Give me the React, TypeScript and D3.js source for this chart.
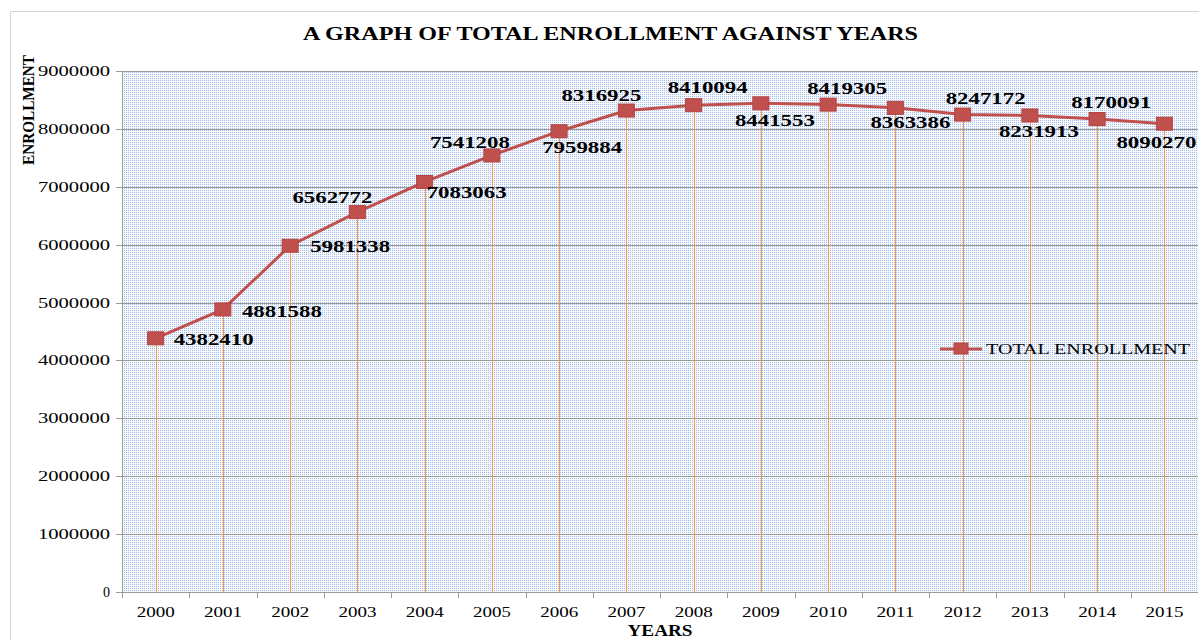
import React from 'react'
import * as d3 from 'd3'

const years = ['2000', '2001', '2002', '2003', '2004', '2005', '2006', '2007', '2008', '2009', '2010', '2011', '2012', '2013', '2014', '2015']
const enrollment = [4382410, 4881588, 5981338, 6562772, 7083063, 7541208, 7959884, 8316925, 8410094, 8441553, 8419305, 8363386, 8247172, 8231913, 8170091, 8090270]
const yTicks = [0, 1000000, 2000000, 3000000, 4000000, 5000000, 6000000, 7000000, 8000000, 9000000]
const seriesName = 'TOTAL ENROLLMENT'

// label placement around each marker (dx, dy baseline), as in the original sheet
const labelNudge = [
  [58, 7], [59, 8], [60, 6], [-25, -9], [42, 16], [-22, -7], [23, 22], [-25, -10],
  [14, -12], [14, 23], [19, -11], [15, 20], [23, -11], [9, 22], [14, -11], [-8, 24],
]

const W = 1199
const H = 640
const plot = { left: 122, right: 1198, top: 71, bottom: 592 }
const font = '"Liberation Serif", "Times New Roman", serif'
const red = '#C0504D'

const App = () => {
  const x = d3.scaleBand().domain(years).range([plot.left, plot.right])
  const y = d3.scaleLinear().domain([0, 9000000]).range([plot.bottom, plot.top])
  const cx = (yr: string) => (x(yr) as number) + x.bandwidth() / 2

  const line = d3
    .line<number>()
    .x((d, i) => cx(years[i]))
    .y((d) => y(d))

  return (
    <svg width={W} height={H} style={{ position: 'absolute', left: 0, top: 0, background: '#fff' }}>
      <defs>
        <pattern id='dots' width={2} height={2} patternUnits='userSpaceOnUse'>
          <rect width={2} height={2} fill='#F9FAFE' />
          <rect width={1} height={1} fill='#A3BBEA' />
        </pattern>
      </defs>
      <rect x={10.5} y={11.5} width={1300} height={700} fill='none' stroke='#D4D4D4' />

      <text x={610.5} y={40} textAnchor='middle' fontFamily={font} fontWeight='bold' fontSize={19}
        textLength={615} lengthAdjust='spacingAndGlyphs'>
        A GRAPH OF TOTAL ENROLLMENT AGAINST YEARS
      </text>

      <rect x={plot.left} y={plot.top} width={plot.right - plot.left} height={plot.bottom - plot.top} fill='url(#dots)' />

      {yTicks.map((t) => (
        <g key={t}>
          <line x1={plot.left - 6} x2={plot.right} y1={Math.round(y(t)) + 0.5} y2={Math.round(y(t)) + 0.5} stroke='#9A9A9A' />
          <text x={110} y={y(t) + 5} textAnchor='end' fontFamily={font} fontSize={14}
            textLength={t === 0 ? undefined : 72} lengthAdjust='spacingAndGlyphs'>
            {t}
          </text>
        </g>
      ))}

      <line x1={plot.left + 0.5} x2={plot.left + 0.5} y1={plot.top} y2={plot.bottom} stroke='#9A9A9A' />

      {years.map((yr, i) => (
        <line key={'drop' + yr} x1={Math.round(cx(yr)) + 0.5} x2={Math.round(cx(yr)) + 0.5}
          y1={y(enrollment[i])} y2={plot.bottom} stroke='#F79646' strokeWidth={1} />
      ))}

      <line x1={plot.left} x2={plot.right} y1={plot.bottom + 0.5} y2={plot.bottom + 0.5} stroke='#9A9A9A' />
      {years.map((yr) => (
        <line key={'tk' + yr} x1={Math.round(x(yr) as number) + 0.5} x2={Math.round(x(yr) as number) + 0.5}
          y1={plot.bottom} y2={plot.bottom + 6} stroke='#9A9A9A' />
      ))}
      {years.map((yr) => (
        <text key={'xl' + yr} x={cx(yr)} y={plot.bottom + 25} textAnchor='middle' fontFamily={font} fontSize={14}
          textLength={38} lengthAdjust='spacingAndGlyphs'>
          {yr}
        </text>
      ))}

      <path d={line(enrollment) as string} fill='none' stroke={red} strokeWidth={3} />
      {enrollment.map((v, i) => (
        <rect key={'m' + i} x={cx(years[i]) - 8} y={y(v) - 6.5} width={16} height={13} fill={red} stroke='#B5423F' />
      ))}

      {enrollment.map((v, i) => (
        <text key={'lb' + i} x={cx(years[i]) + labelNudge[i][0]} y={y(v) + labelNudge[i][1]} textAnchor='middle'
          fontFamily={font} fontWeight='bold' fontSize={17} textLength={80} lengthAdjust='spacingAndGlyphs'>
          {v}
        </text>
      ))}

      <g>
        <line x1={940} x2={982} y1={349} y2={349} stroke={red} strokeWidth={3} />
        <rect x={954} y={343} width={14} height={11} fill={red} stroke='#B5423F' />
        <text x={986} y={354} fontFamily={font} fontSize={15} textLength={204} lengthAdjust='spacingAndGlyphs'>
          {seriesName}
        </text>
      </g>

      <text transform='translate(34,110) rotate(-90)' textAnchor='middle' fontFamily={font} fontWeight='bold'
        fontSize={16} textLength={110} lengthAdjust='spacingAndGlyphs'>
        ENROLLMENT
      </text>
      <text x={660} y={636} textAnchor='middle' fontFamily={font} fontWeight='bold' fontSize={16}
        textLength={65} lengthAdjust='spacingAndGlyphs'>
        YEARS
      </text>
    </svg>
  )
}

export default App
